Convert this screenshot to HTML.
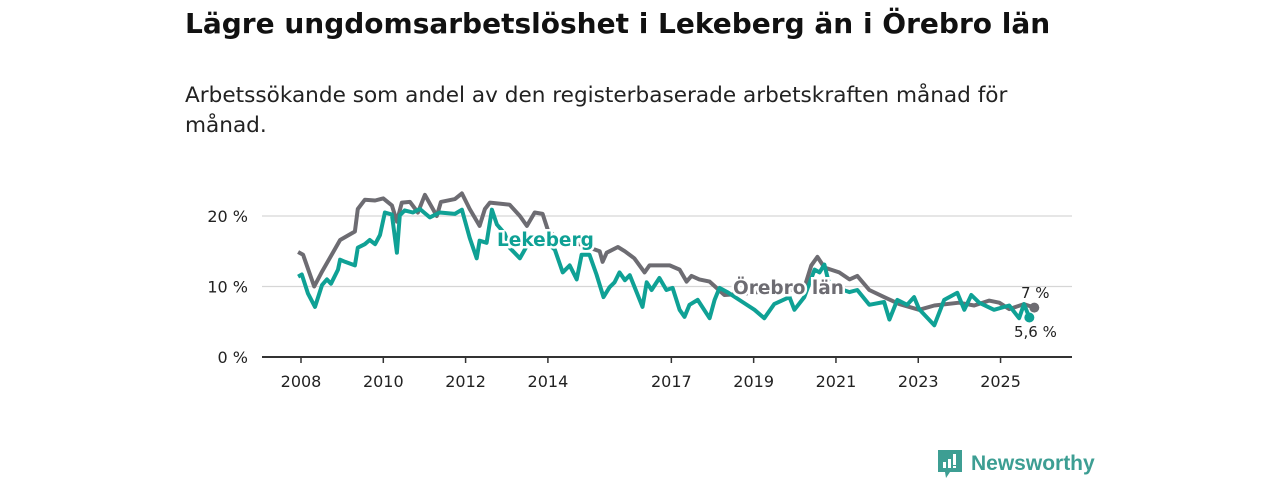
<!DOCTYPE html>
<html><head><meta charset="utf-8"><style>
body{margin:0;background:#fff;width:1280px;height:480px;overflow:hidden;font-family:"DejaVu Sans","Liberation Sans",sans-serif;}
#title{position:absolute;left:185px;top:7px;font-size:28px;font-weight:bold;color:#111;margin:0;white-space:nowrap;}
#sub{position:absolute;left:185px;top:81px;font-size:21.6px;color:#222;line-height:30px;width:860px;}
svg{position:absolute;left:0;top:0;}
</style></head><body>
<h1 id="title">Lägre ungdomsarbetslöshet i Lekeberg än i Örebro län</h1>
<div id="sub">Arbetssökande som andel av den registerbaserade arbetskraften månad för månad.</div>
<svg id="chart" width="1280" height="480"></svg>
<script>
const yTicks=[0,10,20];
const yTickLabels=["0 %","10 %","20 %"];
const xTicks=[2008,2010,2012,2014,2017,2019,2021,2023,2025];
const orebroDates=[2007.93,2008.05,2008.32,2008.5,2008.95,2009.31,2009.38,2009.55,2009.8,2010.0,2010.21,2010.33,2010.45,2010.65,2010.84,2011.01,2011.3,2011.4,2011.74,2011.91,2012.1,2012.34,2012.47,2012.59,2013.07,2013.32,2013.49,2013.68,2013.87,2014.0,2014.3,2014.77,2015.26,2015.33,2015.43,2015.7,2015.87,2016.1,2016.35,2016.47,2016.96,2017.2,2017.37,2017.49,2017.68,2017.93,2018.29,2018.78,2019.26,2019.87,2020.23,2020.4,2020.55,2020.72,2021.08,2021.33,2021.52,2021.81,2022.17,2022.54,2023.02,2023.39,2023.99,2024.36,2024.72,2024.97,2025.21,2025.57,2025.82];
const orebroValues=[14.9,14.5,10,12,16.6,17.8,21,22.3,22.2,22.5,21.5,19.2,21.9,22,20.5,23,20,22,22.4,23.2,21,18.6,21,21.9,21.6,20,18.6,20.5,20.3,18,16.5,16,15,13.5,14.8,15.6,15,14,12,13,13,12.4,10.7,11.5,11,10.7,8.8,9,9.3,9.5,9.8,13,14.2,12.7,12,11,11.5,9.5,8.5,7.5,6.7,7.3,7.7,7.3,8,7.7,6.8,7.5,7];
const lekeDates=[2007.93,2008.02,2008.17,2008.34,2008.51,2008.63,2008.73,2008.9,2008.95,2009.07,2009.31,2009.38,2009.55,2009.67,2009.8,2009.92,2010.04,2010.21,2010.33,2010.4,2010.52,2010.72,2010.89,2011.13,2011.37,2011.74,2011.91,2012.1,2012.27,2012.34,2012.51,2012.64,2012.76,2012.95,2013.07,2013.32,2013.56,2013.8,2014.04,2014.17,2014.36,2014.53,2014.7,2014.82,2015.01,2015.18,2015.35,2015.5,2015.62,2015.74,2015.87,2015.99,2016.23,2016.3,2016.4,2016.52,2016.71,2016.88,2017.03,2017.2,2017.32,2017.44,2017.64,2017.93,2018.05,2018.17,2018.36,2018.73,2019.02,2019.26,2019.5,2019.87,2019.99,2020.23,2020.48,2020.6,2020.72,2020.84,2021.33,2021.52,2021.81,2022.17,2022.3,2022.49,2022.73,2022.9,2023.02,2023.39,2023.63,2023.95,2024.12,2024.29,2024.48,2024.84,2025.21,2025.45,2025.57,2025.7];
const lekeValues=[11.4,11.7,9,7.1,10.2,11,10.4,12.4,13.8,13.5,13,15.5,16,16.6,16,17.3,20.5,20.2,14.8,20.1,20.8,20.5,21,19.8,20.5,20.3,20.9,16.9,14,16.5,16.2,20.9,18.8,17.5,15.5,14,16.5,15.8,15.9,15.2,12,13,11,14.5,14.5,11.7,8.5,9.9,10.6,12,10.9,11.6,8.1,7.1,10.6,9.5,11.2,9.5,9.8,6.7,5.7,7.4,8.1,5.5,8.1,9.8,9.2,7.8,6.7,5.5,7.5,8.5,6.7,8.5,12.4,12,13.1,10.2,9.2,9.5,7.4,7.8,5.3,8.1,7.4,8.5,6.8,4.5,8.1,9.1,6.7,8.8,7.7,6.7,7.3,5.5,7.5,5.6];
const NS="http://www.w3.org/2000/svg";
const svg=document.getElementById('chart');
const X=y=>301+(y-2008)*41.15;
const Y=v=>357-v*7.05;
function mk(t,a,p){const e=document.createElementNS(NS,t);for(const k in a)e.setAttribute(k,a[k]);(p||svg).appendChild(e);return e;}
yTicks.forEach((t,i)=>{
  if(t>0){const g=mk('line',{x1:262,x2:1072,y1:Y(t),y2:Y(t),stroke:'#d6d6d6','stroke-width':1.2});
  
  }
  const l=mk('text',{x:248,y:Y(t)+6,'text-anchor':'end','font-size':16,fill:'#222'});l.textContent=yTickLabels[i];
  
  
});
const ax=mk('line',{x1:262,x2:1072,y1:357,y2:357,stroke:'#333','stroke-width':2});


xTicks.forEach(t=>{
  mk('line',{x1:X(t),x2:X(t),y1:357,y2:363,stroke:'#333','stroke-width':1.5});
  const l=mk('text',{x:X(t),y:387,'text-anchor':'middle','font-size':16,fill:'#222'});l.textContent=t;
  
  
});
function line(d,v,c,name){const p=mk('path',{d:d.map((x,i)=>(i?'L':'M')+X(x).toFixed(1)+','+Y(v[i]).toFixed(1)).join(''),fill:'none',stroke:c,'stroke-width':4,'stroke-linejoin':'round'});


const n=d.length-1;const dot=mk('circle',{cx:X(d[n]),cy:Y(v[n]),r:5,fill:c});

}
line(orebroDates,orebroValues,'#6d6c72','orebro-line');
line(lekeDates,lekeValues,'#0fa195','lekeberg-line');
function lab(x,y,t,c,name,bold,size){const e=mk('text',{x:x,y:y,'font-size':size,'font-weight':bold?'bold':'normal',fill:c,stroke:bold?'#fff':'none','stroke-width':bold?5:0,'paint-order':'stroke'});e.textContent=t;

}
lab(497,246,'Lekeberg','#0fa195','lekeberg-label',true,18.5);
lab(733,294,'Örebro län','#6d6c72','orebro-label',true,18.5);
lab(1021,298,'7 %','#222','orebro-end-value',false,15);
lab(1014,337,'5,6 %','#222','lekeberg-end-value',false,15);
</script>
<div style="position:absolute;left:938px;top:450px;display:flex;align-items:center;">
<svg width="24" height="28" style="position:relative"><path d="M0 0H24V22H12L8 28L7 22H0Z" fill="#3d9e93"/><rect x="5" y="12" width="3" height="6" fill="#fff"/><rect x="10" y="9" width="3" height="9" fill="#fff"/><rect x="15" y="4" width="3" height="11" fill="#fff"/><rect x="15" y="16" width="3" height="2" fill="#fff"/></svg>
<span style="margin-left:9px;font-size:21px;color:#3d9e93;font-weight:bold;font-family:'Liberation Sans',sans-serif;">Newsworthy</span></div>
</body></html>
